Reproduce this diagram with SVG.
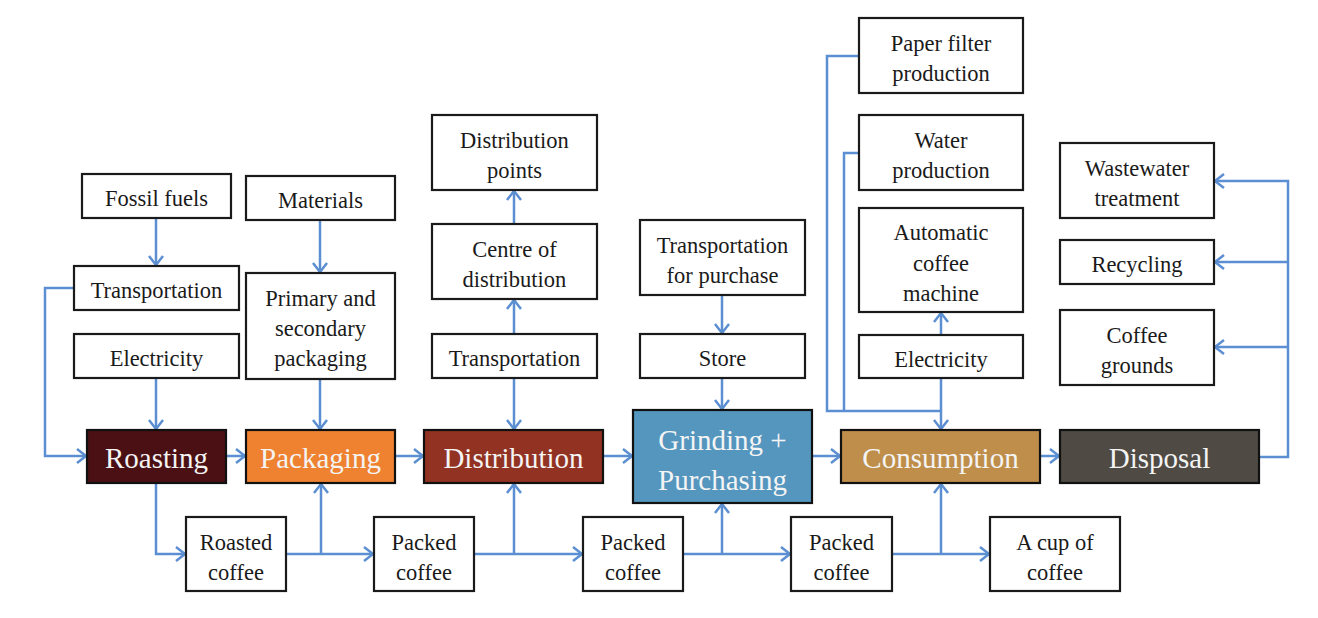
<svg xmlns="http://www.w3.org/2000/svg" width="1318" height="618" viewBox="0 0 1318 618">
<style>
.box{fill:#fff;stroke:#1a1a1a;stroke-width:2.2}
.main{stroke:#111;stroke-width:2.2}
.t{font-family:"Liberation Serif","Times New Roman",serif;font-size:22.5px;fill:#1a1a1a;text-anchor:middle}
.m{font-family:"Liberation Serif","Times New Roman",serif;font-size:29px;fill:#f4f4f4;text-anchor:middle}
.c{fill:none;stroke:#5b8fd1;stroke-width:2.5}
.a{marker-end:url(#arr)}
</style>
<defs>
<marker id="arr" markerUnits="userSpaceOnUse" markerWidth="14" markerHeight="16" refX="10" refY="7" orient="auto" overflow="visible">
<path d="M1,0 L10,7 L1,14" fill="none" stroke="#5b8fd1" stroke-width="2.5"/>
</marker>
</defs>
<rect width="1318" height="618" fill="#fff"/>

<g id="connectors">
<path class="c a" d="M156,218 V265"/>
<path class="c a" d="M320,220 V272"/>
<path class="c a" d="M74,288 H45 V456 H86"/>
<path class="c a" d="M156,378 V429"/>
<path class="c a" d="M320,379 V429"/>
<path class="c a" d="M226,456 H245"/>
<path class="c a" d="M395,456 H423"/>
<path class="c a" d="M603,456 H632"/>
<path class="c a" d="M812,456 H840"/>
<path class="c a" d="M1040,456 H1059"/>
<path class="c a" d="M156,483 V554 H185"/>
<path class="c a" d="M286,554 H373"/>
<path class="c a" d="M321,554 V484"/>
<path class="c a" d="M474,554 H582"/>
<path class="c a" d="M514,554 V484"/>
<path class="c a" d="M683,554 H790"/>
<path class="c a" d="M722,554 V504"/>
<path class="c a" d="M892,554 H989"/>
<path class="c a" d="M941,554 V484"/>
<path class="c a" d="M514,334 V300"/>
<path class="c a" d="M514,224 V191"/>
<path class="c a" d="M514,378 V429"/>
<path class="c a" d="M722,295 V333"/>
<path class="c a" d="M722,378 V409"/>
<path class="c" d="M859,56 H827 V411 H941"/>
<path class="c" d="M859,153 H844 V411"/>
<path class="c a" d="M941,378 V429"/>
<path class="c a" d="M941,335 V313"/>
<path class="c a" d="M1259,457 H1288 V181 H1215"/>
<path class="c a" d="M1288,262 H1215"/>
<path class="c a" d="M1288,347 H1215"/>
</g>

<g id="fossil-fuels"><rect class="box" x="82" y="174" width="149" height="44"/><text class="t" x="156.5" y="206">Fossil fuels</text></g>
<g id="materials"><rect class="box" x="246" y="176" width="149" height="44"/><text class="t" x="320.5" y="208">Materials</text></g>
<g id="transportation-1"><rect class="box" x="74" y="266" width="165" height="44"/><text class="t" x="156.5" y="298">Transportation</text></g>
<g id="electricity-1"><rect class="box" x="74" y="334" width="165" height="44"/><text class="t" x="156.5" y="366">Electricity</text></g>
<g id="primary-packaging"><rect class="box" x="246" y="273" width="149" height="106"/><text class="t" x="320.5" y="306">Primary and</text><text class="t" x="320.5" y="336">secondary</text><text class="t" x="320.5" y="366">packaging</text></g>

<g id="distribution-points"><rect class="box" x="432" y="115" width="165" height="75"/><text class="t" x="514.5" y="148">Distribution</text><text class="t" x="514.5" y="178">points</text></g>
<g id="centre-distribution"><rect class="box" x="432" y="224" width="165" height="75"/><text class="t" x="514.5" y="257">Centre of</text><text class="t" x="514.5" y="287">distribution</text></g>
<g id="transportation-2"><rect class="box" x="432" y="334" width="165" height="44"/><text class="t" x="514.5" y="366">Transportation</text></g>
<g id="transportation-purchase"><rect class="box" x="640" y="220" width="165" height="75"/><text class="t" x="722.5" y="253">Transportation</text><text class="t" x="722.5" y="283">for purchase</text></g>
<g id="store"><rect class="box" x="640" y="334" width="165" height="44"/><text class="t" x="722.5" y="366">Store</text></g>

<g id="paper-filter"><rect class="box" x="859" y="18" width="164" height="75"/><text class="t" x="941" y="51">Paper filter</text><text class="t" x="941" y="81">production</text></g>
<g id="water-production"><rect class="box" x="859" y="115" width="164" height="75"/><text class="t" x="941" y="148">Water</text><text class="t" x="941" y="178">production</text></g>
<g id="coffee-machine"><rect class="box" x="859" y="208" width="164" height="104"/><text class="t" x="941" y="240">Automatic</text><text class="t" x="941" y="271">coffee</text><text class="t" x="941" y="301">machine</text></g>
<g id="electricity-2"><rect class="box" x="859" y="335" width="164" height="43"/><text class="t" x="941" y="367">Electricity</text></g>

<g id="wastewater"><rect class="box" x="1060" y="143" width="154" height="75"/><text class="t" x="1137" y="176">Wastewater</text><text class="t" x="1137" y="206">treatment</text></g>
<g id="recycling"><rect class="box" x="1060" y="240" width="154" height="44"/><text class="t" x="1137" y="272">Recycling</text></g>
<g id="coffee-grounds"><rect class="box" x="1060" y="310" width="154" height="75"/><text class="t" x="1137" y="343">Coffee</text><text class="t" x="1137" y="373">grounds</text></g>

<g id="roasting"><rect class="main" x="87" y="430" width="139" height="53" fill="#4a1014"/><text class="m" x="156.5" y="468">Roasting</text></g>
<g id="packaging"><rect class="main" x="246" y="430" width="149" height="53" fill="#ee8231"/><text class="m" x="320.5" y="468">Packaging</text></g>
<g id="distribution"><rect class="main" x="424" y="430" width="179" height="53" fill="#923222"/><text class="m" x="513.5" y="468">Distribution</text></g>
<g id="grinding"><rect class="main" x="633" y="410" width="179" height="93" fill="#5596bf"/><text class="m" x="722.5" y="450">Grinding +</text><text class="m" x="722.5" y="490">Purchasing</text></g>
<g id="consumption"><rect class="main" x="841" y="430" width="199" height="53" fill="#be8e4a"/><text class="m" x="940.5" y="468">Consumption</text></g>
<g id="disposal"><rect class="main" x="1060" y="430" width="199" height="53" fill="#4f4b44"/><text class="m" x="1159.5" y="468">Disposal</text></g>

<g id="roasted-coffee"><rect class="box" x="186" y="517" width="100" height="74"/><text class="t" x="236" y="550">Roasted</text><text class="t" x="236" y="580">coffee</text></g>
<g id="packed-coffee-1"><rect class="box" x="374" y="517" width="100" height="74"/><text class="t" x="424" y="550">Packed</text><text class="t" x="424" y="580">coffee</text></g>
<g id="packed-coffee-2"><rect class="box" x="583" y="517" width="100" height="74"/><text class="t" x="633" y="550">Packed</text><text class="t" x="633" y="580">coffee</text></g>
<g id="packed-coffee-3"><rect class="box" x="791" y="517" width="101" height="74"/><text class="t" x="841.5" y="550">Packed</text><text class="t" x="841.5" y="580">coffee</text></g>
<g id="cup-of-coffee"><rect class="box" x="990" y="517" width="130" height="74"/><text class="t" x="1055" y="550">A cup of</text><text class="t" x="1055" y="580">coffee</text></g>
</svg>
